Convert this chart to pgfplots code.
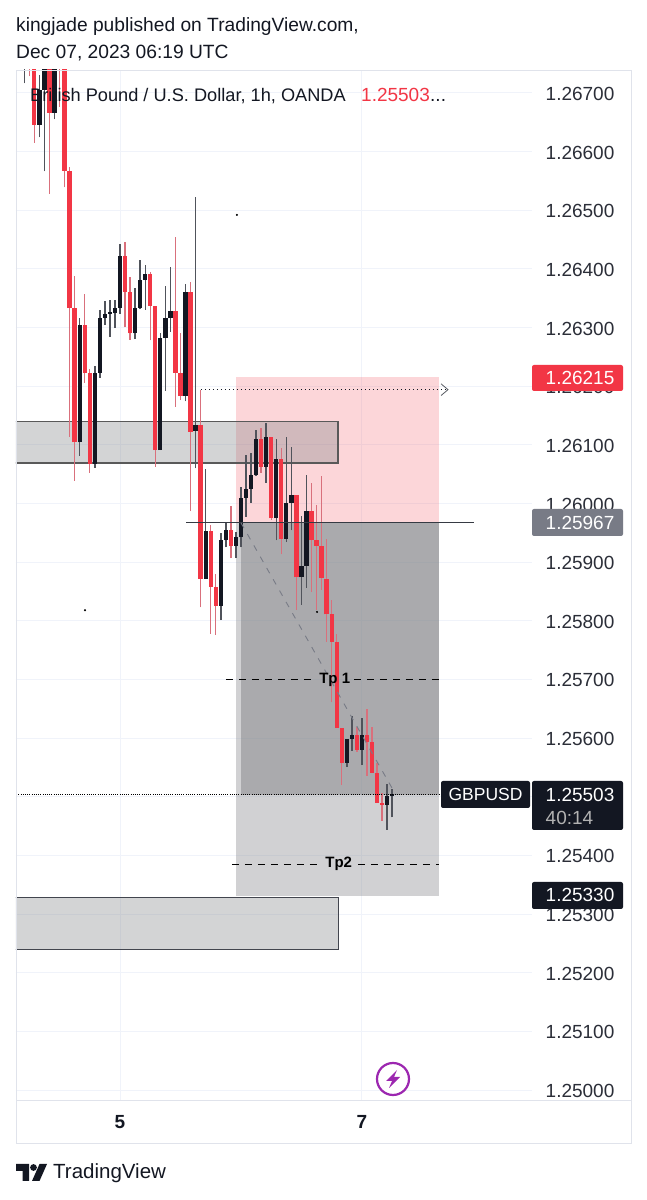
\documentclass[border=0pt]{standalone}
\usepackage{fontspec}
\setmainfont{Liberation Sans}
\usepackage{pgfplots}
\usepackage{pgfplotstable}
\pgfplotsset{compat=1.18}
\definecolor{tvred}{HTML}{F23645}
\definecolor{redwick}{HTML}{D9707C}
\definecolor{tvblack}{HTML}{131722}
\definecolor{blackwick}{HTML}{50535B}
\definecolor{gridc}{HTML}{F0F3FA}
\definecolor{framec}{HTML}{E0E3EB}
\definecolor{tvgrey}{HTML}{787B86}
\definecolor{zonegrey}{HTML}{7C7E82}
\definecolor{boltc}{HTML}{9C27B0}
\pgfplotstableread{
x low high top bottom
-18 1.26728 1.26810 1.26800 1.26795
-17 1.26615 1.26810 1.26800 1.26646
-14 1.26528 1.26810 1.26800 1.26666
-12 1.26676 1.26810 1.26800 1.26750
-11 1.26539 1.26810 1.26800 1.26567
-10 1.26114 1.26573 1.26567 1.26333
-9 1.26039 1.26388 1.26333 1.26104
-7 1.26206 1.26357 1.26304 1.26223
-6 1.26052 1.26229 1.26223 1.26068
1 1.26300 1.26445 1.26422 1.26361
2 1.26279 1.26386 1.26361 1.26290
6 1.26278 1.26395 1.26391 1.26337
7 1.26063 1.26337 1.26337 1.26091
11 1.26165 1.26455 1.26328 1.26223
12 1.26176 1.26290 1.26223 1.26183
14 1.25987 1.26377 1.26361 1.26122
16 1.25823 1.26194 1.26133 1.25872
18 1.25778 1.25964 1.25953 1.25858
19 1.25776 1.25880 1.25858 1.25826
22 1.25907 1.25995 1.25955 1.25928
28 1.26052 1.26129 1.26110 1.26063
30 1.25972 1.26113 1.26113 1.25975
32 1.25913 1.26095 1.26075 1.25940
35 1.25818 1.26014 1.26014 1.25874
38 1.25849 1.26035 1.25988 1.25937
39 1.25818 1.25998 1.25937 1.25928
40 1.25853 1.26046 1.25928 1.25873
41 1.25764 1.25939 1.25872 1.25811
42 1.25661 1.25835 1.25811 1.25764
43 1.25617 1.25777 1.25764 1.25617
44 1.25520 1.25617 1.25617 1.25558
47 1.25577 1.25619 1.25606 1.25580
49 1.25536 1.25650 1.25605 1.25593
50 1.25540 1.25619 1.25593 1.25541
51 1.25489 1.25557 1.25541 1.25490
52 1.25459 1.25506 1.25490 1.25486
}\redcandles
\pgfplotstableread{
x low high top bottom
-19 1.26716 1.26810 1.26800 1.26760
-16 1.26624 1.26731 1.26705 1.26646
-15 1.26566 1.26810 1.26800 1.26705
-13 1.26655 1.26810 1.26800 1.26666
-8 1.26081 1.26316 1.26304 1.26104
-5 1.26061 1.26234 1.26223 1.26068
-4 1.26214 1.26329 1.26317 1.26223
-3 1.26304 1.26346 1.26323 1.26317
-2 1.26284 1.26347 1.26326 1.26323
-1 1.26299 1.26347 1.26334 1.26324
0 1.26323 1.26442 1.26422 1.26334
3 1.26280 1.26367 1.26334 1.26290
4 1.26331 1.26415 1.26381 1.26334
5 1.26330 1.26407 1.26391 1.26381
8 1.26091 1.26291 1.26282 1.26091
9 1.26192 1.26371 1.26316 1.26282
10 1.26293 1.26403 1.26328 1.26316
13 1.26174 1.26375 1.26361 1.26183
15 1.26060 1.26522 1.26133 1.26124
17 1.25872 1.26059 1.25953 1.25872
20 1.25801 1.25950 1.25937 1.25826
21 1.25925 1.25967 1.25955 1.25937
23 1.25907 1.25951 1.25942 1.25928
24 1.25925 1.26028 1.26010 1.25942
25 1.25977 1.26083 1.26025 1.26010
26 1.26001 1.26086 1.26048 1.26025
27 1.26047 1.26126 1.26110 1.26048
29 1.26035 1.26138 1.26113 1.26063
31 1.25937 1.26110 1.26075 1.25975
33 1.25934 1.26114 1.26001 1.25940
34 1.25954 1.26097 1.26014 1.26001
36 1.25827 1.25979 1.25894 1.25874
37 1.25856 1.26049 1.25988 1.25894
45 1.25551 1.25599 1.25599 1.25558
46 1.25578 1.25638 1.25606 1.25599
48 1.25554 1.25635 1.25605 1.25580
53 1.25444 1.25522 1.25501 1.25486
54 1.25465 1.25514 1.25505 1.25501
}\blackcandles
\newcommand{\wicks}[2]{\addplot[draw=none,no markers,error bars/.cd,y dir=plus,y explicit,error mark=none,error bar style={line width=1.4pt,draw=#2}] table[x=x,y=low,y error expr=\thisrow{high}-\thisrow{low}] {#1};}
\newcommand{\bodies}[2]{\addplot[draw=none,no markers,error bars/.cd,y dir=plus,y explicit,error mark=none,error bar style={line width=4.3pt,draw=#2}] table[x=x,y=bottom,y error expr=\thisrow{top}-\thisrow{bottom}] {#1};}
\begin{document}
\begin{tikzpicture}
\useasboundingbox (0,0) rectangle (647pt,1200pt);
\fill[white] (0,0) rectangle (647pt,1200pt);
\begin{axis}[
  at={(16pt,100pt)},anchor=south west,scale only axis,width=516pt,height=1030pt,
  xmin=-20.635,xmax=81.746,ymin=1.24983,ymax=1.26739,
  axis line style={draw=none},major tick length=0pt,
  grid=major,major grid style={gridc,line width=0.9pt},
  ytick={1.25,1.251,1.252,1.253,1.254,1.255,1.256,1.257,1.258,1.259,1.26,1.261,1.262,1.263,1.264,1.265,1.266,1.267},
  yticklabels={1.25000,1.25100,1.25200,1.25300,1.25400,1.25500,1.25600,1.25700,1.25800,1.25900,1.26000,1.26100,1.26200,1.26300,1.26400,1.26500,1.26600,1.26700},
  yticklabel pos=right,
  yticklabel style={inner sep=0pt,xshift=13.5pt,yshift=-1pt,font=\fontsize{19}{22}\selectfont,text=tvblack!90},
  xtick={0,48},xticklabels={5,7},
  xticklabel style={inner sep=0pt,yshift=-15pt,font=\fontsize{19}{22}\selectfont\bfseries,text=tvblack},
  clip=true]
% position boxes
\addplot[draw=none,fill=tvred,fill opacity=0.2] coordinates {(23.02,1.26215)(63.29,1.26215)(63.29,1.25967)(23.02,1.25967)} --cycle;
\addplot[draw=none,fill=zonegrey,fill opacity=0.35] coordinates {(23.02,1.25967)(63.29,1.25967)(63.29,1.25330)(23.02,1.25330)} --cycle;
\addplot[draw=none,fill=zonegrey,fill opacity=0.46] coordinates {(24,1.25967)(63.29,1.25967)(63.29,1.25503)(24,1.25503)} --cycle;
% zones
\addplot[draw=black!65,line width=1.1pt,fill=zonegrey,fill opacity=0.33] coordinates {(-22,1.26139)(43.25,1.26139)(43.25,1.26069)(-22,1.26069)} --cycle;
\addplot[draw=tvblack!80,line width=0.7pt,fill=zonegrey,fill opacity=0.33] coordinates {(-22,1.25329)(43.25,1.25329)(43.25,1.25239)(-22,1.25239)} --cycle;
% candles
\wicks{\redcandles}{redwick}
\wicks{\blackcandles}{blackwick}
\bodies{\redcandles}{tvred}
\bodies{\blackcandles}{tvblack}
% drawings
\addplot[tvblack!85,line width=1.1pt] coordinates {(13.1,1.25967)(70.24,1.25967)};
\addplot[tvgrey,line width=0.9pt,dash pattern=on 6pt off 7pt] coordinates {(24,1.25967)(54.76,1.25503)};
\addplot[black,line width=1pt,dash pattern=on 1pt off 1.2pt] coordinates {(-20.6,1.25503)(63.7,1.25503)};
\addplot[tvblack,line width=1.1pt,dash pattern=on 1.5pt off 2.5pt] coordinates {(16.07,1.26194)(65,1.26194)};
\addplot[tvblack!70,line width=0.8pt] coordinates {(63.7,1.26204)(65.08,1.26194)(63.7,1.26184)};
\addplot[black,line width=1pt,dash pattern=on 7pt off 6pt] coordinates {(21.03,1.25700)(38.9,1.25700)};
\addplot[black,line width=1pt,dash pattern=on 7pt off 6pt] coordinates {(46.4,1.25700)(63.9,1.25700)};
\addplot[black,line width=1pt,dash pattern=on 7pt off 6pt] coordinates {(22.2,1.25385)(39.4,1.25385)};
\addplot[black,line width=1pt,dash pattern=on 7pt off 6pt] coordinates {(47.2,1.25385)(63.2,1.25385)};
\addplot[only marks,mark=*,mark size=0.8pt,black] coordinates {(23.2,1.26492)(-6.94,1.25818)(39.1,1.25815)};
\node[font=\fontsize{15}{18}\selectfont\bfseries,text=black] at (axis cs:42.6,1.25700) {Tp 1};
\node[font=\fontsize{15}{18}\selectfont\bfseries,text=black] at (axis cs:43.4,1.25385) {Tp2};
\end{axis}
\begin{scope}[x=1pt,y=-1pt,yshift=1200pt]
% frame
\draw[framec,line width=0.9pt] (16,70) rectangle (631,1143);
\draw[framec,line width=0.9pt] (16,1100) -- (631,1100);
% titles
\node[anchor=base west,inner sep=0,font=\fontsize{19.2}{22}\selectfont,text=tvblack] at (16,32) {kingjade published on TradingView.com,};
\node[anchor=base west,inner sep=0,font=\fontsize{19.2}{22}\selectfont,text=tvblack] at (16,59) {Dec 07, 2023 06:19 UTC};
\node[anchor=base west,inner sep=0,font=\fontsize{18.2}{22}\selectfont,text=tvblack] at (30,102) {British Pound / U.S. Dollar, 1h, OANDA};
\node[anchor=base west,inner sep=0,font=\fontsize{19}{22}\selectfont,text=tvred] at (361,102) {1.25503};
\node[anchor=base west,inner sep=0,font=\fontsize{19}{22}\selectfont,text=tvblack] at (430,102) {...};
% price boxes
\fill[tvred,rounded corners=2pt] (532,365) rectangle (623,391);
\node[anchor=base west,inner sep=0,font=\fontsize{19}{22}\selectfont,text=white] at (545.5,385) {1.26215};
\fill[tvgrey,rounded corners=2pt] (532,509) rectangle (623,536);
\node[anchor=base west,inner sep=0,font=\fontsize{19}{22}\selectfont,text=white] at (545.5,530) {1.25967};
\fill[tvblack,rounded corners=2pt] (441,781) rectangle (530,808);
\node[anchor=base,inner sep=0,font=\fontsize{17.5}{22}\selectfont,text=white] at (485.5,801) {GBPUSD};
\fill[tvblack,rounded corners=2pt] (532,781) rectangle (623,830);
\node[anchor=base west,inner sep=0,font=\fontsize{19}{22}\selectfont,text=white] at (545.5,802) {1.25503};
\node[anchor=base west,inner sep=0,font=\fontsize{19}{22}\selectfont,text=white!70!black] at (545.5,825) {40:14};
\fill[tvblack,rounded corners=2pt] (532,882) rectangle (623,909);
\node[anchor=base west,inner sep=0,font=\fontsize{19}{22}\selectfont,text=white] at (545.5,902) {1.25330};
% bolt icon
\draw[fill=white,draw=boltc,line width=2.2pt] (393,1079) circle (16);
\fill[boltc] (397,1070) -- (386,1081) -- (392,1081) -- (389,1088) -- (400,1077) -- (394,1077) -- cycle;
% logo
\fill[tvblack] (16,1164) -- (29,1164) -- (29,1181) -- (22.5,1181) -- (22.5,1171) -- (16,1171) -- cycle;
\fill[tvblack] (33.5,1167.5) circle (3.4);
\fill[tvblack] (39.5,1164) -- (47,1164) -- (39.5,1181) -- (32,1181) -- cycle;
\node[anchor=base west,inner sep=0,font=\fontsize{20.5}{24}\selectfont,text=tvblack] at (53,1179) {TradingView};
\end{scope}
\end{tikzpicture}
\end{document}
